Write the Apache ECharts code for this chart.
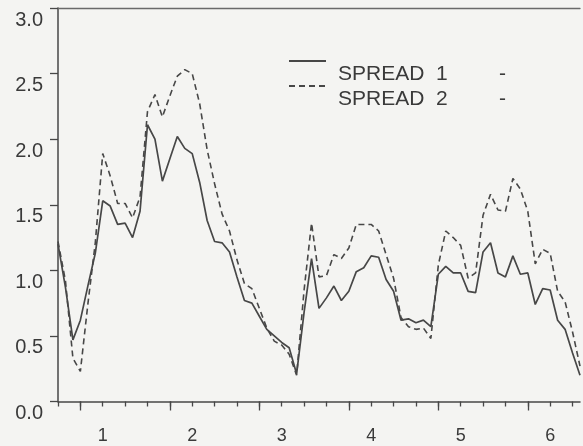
<!DOCTYPE html>
<html>
<head>
<meta charset="utf-8">
<script src="https://cdn.jsdelivr.net/npm/echarts@6/dist/echarts.min.js"></script>
<style>
html,body{margin:0;padding:0;background:#f4f4f2;}
#chart{width:583px;height:446px;}
</style>
</head>
<body>
<div id="chart"></div>
<script>
// Monthly observations, first point half a year before tick "1"
const months = Array.from({length: 71}, (_, i) => String(i));
const xTickLabels = ['1', '2', '3', '4', '5', '6'];
const yTicks = [0, 0.5, 1.0, 1.5, 2.0, 2.5, 3.0];
const seriesNames = ['SPREAD 1', 'SPREAD 2'];

const spread1 = [
  1.20, 0.87, 0.47, 0.62, 0.88, 1.13, 1.53, 1.49, 1.35, 1.36,
  1.25, 1.45, 2.11, 2.00, 1.68, 1.85, 2.02, 1.93, 1.89, 1.67,
  1.38, 1.22, 1.21, 1.14, 0.95, 0.77, 0.75, 0.65, 0.55, 0.50,
  0.45, 0.41, 0.21, 0.68, 1.09, 0.71, 0.79, 0.88, 0.77, 0.84,
  0.99, 1.02, 1.11, 1.10, 0.93, 0.84, 0.62, 0.63, 0.60, 0.62,
  0.57, 0.97, 1.03, 0.98, 0.98, 0.84, 0.83, 1.14, 1.21, 0.98,
  0.95, 1.11, 0.97, 0.98, 0.74, 0.86, 0.85, 0.62, 0.55, 0.37,
  0.20
];
const spread2 = [
  1.22, 0.92, 0.33, 0.23, 0.74, 1.21, 1.89, 1.72, 1.51, 1.51,
  1.40, 1.56, 2.21, 2.34, 2.17, 2.33, 2.48, 2.53, 2.50, 2.27,
  1.92, 1.66, 1.43, 1.30, 1.08, 0.90, 0.86, 0.71, 0.56, 0.46,
  0.43, 0.36, 0.20, 0.85, 1.36, 0.95, 0.96, 1.12, 1.09, 1.17,
  1.35, 1.35, 1.35, 1.30, 1.12, 0.94, 0.64, 0.57, 0.55, 0.56,
  0.48, 1.04, 1.30, 1.25, 1.19, 0.94, 0.98, 1.42, 1.58, 1.46,
  1.45, 1.70, 1.62, 1.45, 1.05, 1.16, 1.13, 0.84, 0.76, 0.53,
  0.27
];

const ink = '#474747';
const txt = '#3a3a3a';
const font = 'Liberation Sans';

const chart = echarts.init(document.getElementById('chart'), null, {renderer: 'canvas'});
chart.setOption({
  backgroundColor: '#f4f4f2',
  animation: false,
  grid: {left: 58, right: 3, top: 8, bottom: 44.5, containLabel: false},
  legend: {
    orient: 'vertical',
    left: 288,
    top: 37,
    padding: 0,
    itemGap: -23,
    itemWidth: 37,
    itemHeight: 10,
    data: seriesNames,
    itemStyle: {color: 'transparent', borderColor: 'transparent', borderWidth: 0, opacity: 0},
    formatter: name => '{n|' + name.replace(' ', '  ') + '}{d|-}',
    textStyle: {
      padding: [26, 0, 0, 7],
      color: txt,
      fontFamily: font,
      fontSize: 21,
      lineHeight: 22,
      rich: {
        n: {width: 161, fontFamily: font, fontSize: 21, lineHeight: 22, color: txt},
        d: {fontFamily: font, fontSize: 21, lineHeight: 22, color: txt}
      }
    }
  },
  xAxis: [
    {
      type: 'category',
      position: 'bottom',
      data: months,
      boundaryGap: false,
      axisLine: {show: true, lineStyle: {color: ink, width: 1.5}},
      axisTick: {show: true, length: 5, interval: (i) => i % 3 === 0, lineStyle: {color: ink, width: 1.3}},
      axisLabel: {
        show: true,
        interval: (i) => i % 12 === 6,
        formatter: (v, i) => xTickLabels[Math.floor(Number(v) / 12)],
        margin: 26,
        color: txt,
        fontFamily: font,
        fontSize: 18
      },
      splitLine: {show: false}
    },
    {
      type: 'category',
      position: 'bottom',
      data: months,
      boundaryGap: false,
      axisLine: {show: false},
      axisTick: {show: true, length: 9, interval: (i) => i % 12 === 3, lineStyle: {color: ink, width: 1.3}},
      axisLabel: {show: false},
      splitLine: {show: false}
    },
    {
      type: 'category',
      position: 'top',
      data: months,
      boundaryGap: false,
      axisLine: {show: true, onZero: false, lineStyle: {color: '#6a6a6a', width: 1.3}},
      axisTick: {show: false},
      axisLabel: {show: false},
      splitLine: {show: false}
    }
  ],
  yAxis: {
    type: 'value',
    min: yTicks[0],
    max: yTicks[yTicks.length - 1],
    interval: 0.5,
    axisLine: {show: true, lineStyle: {color: ink, width: 1.5}},
    axisTick: {show: true, length: 8, lineStyle: {color: ink, width: 1.3}},
    axisLabel: {
      formatter: v => v.toFixed(1),
      margin: 15,
      verticalAlign: 'top',
      padding: [2, 0, 0, 0],
      color: txt,
      fontFamily: font,
      fontSize: 20
    },
    splitLine: {show: false}
  },
  series: [
    {
      name: seriesNames[0],
      type: 'line',
      data: spread1,
      showSymbol: false,
      symbol: 'none',
      lineStyle: {color: ink, width: 1.7, type: 'solid'},
      itemStyle: {color: ink}
    },
    {
      name: seriesNames[1],
      type: 'line',
      data: spread2,
      showSymbol: false,
      symbol: 'none',
      lineStyle: {color: ink, width: 1.6, type: [6, 4]},
      itemStyle: {color: ink}
    }
  ]
});
</script>
</body>
</html>
